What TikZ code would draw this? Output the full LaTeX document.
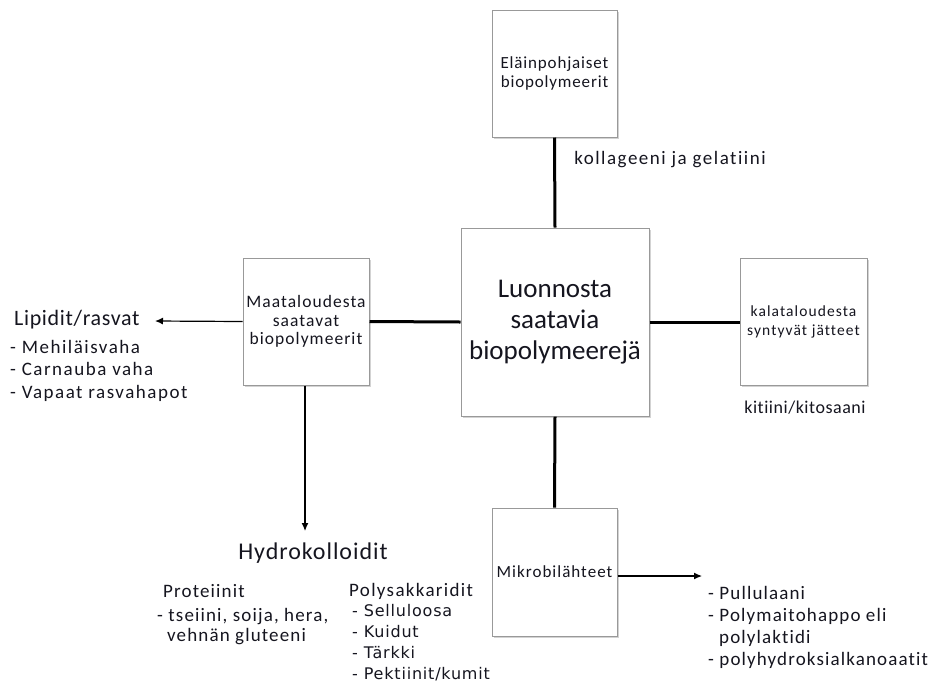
\documentclass[tikz,border=0pt]{standalone}
\usepackage{fontspec}
\setmainfont{Carlito}[Ligatures=NoCommon]
\newfontfamily\dvs{DejaVu Sans}
\newcommand\lsp[1]{\addfontfeatures{LetterSpace=#1}}
\usetikzlibrary{shadows,arrows.meta}
\definecolor{txt}{HTML}{15151F}
\begin{document}
\begin{tikzpicture}[x=1pt,y=-1pt,
  box/.style={draw=black!40, line width=1pt, fill=white, align=center, inner sep=2pt,
    drop shadow={shadow xshift=1.5pt, shadow yshift=-1.5pt, opacity=0.35}},
  link/.style={line width=3pt},
  arr/.style={line width=1.2pt, -{Latex[length=8pt,width=7pt]}},
  lbl/.style={inner sep=0, anchor=west, text=txt},
  every node/.append style={text=txt}]
\useasboundingbox (0,0) rectangle (937,689);
\node[box, minimum width=125pt, minimum height=127pt, font=\fontsize{17}{19}\selectfont\lsp{5}] (top) at (554.5,73.5) {Eläinpohjaiset\\biopolymeerit};
\node[box, minimum width=188pt, minimum height=188pt, font=\fontsize{27}{31}\selectfont] (center) at (555,322) {Luonnosta\\saatavia\\biopolymeerejä};
\node[box, minimum width=126pt, minimum height=127pt, font=\fontsize{17.5}{18.5}\selectfont\lsp{6}] (left) at (306,321.5) {Maataloudesta\\saatavat\\biopolymeerit};
\node[box, minimum width=127pt, minimum height=127pt, font=\fontsize{15.5}{19}\selectfont\lsp{7}] (right) at (803.5,322) {kalataloudesta\\syntyvät jätteet};
\node[box, minimum width=125pt, minimum height=128pt, font=\fontsize{17}{19}\selectfont\lsp{6}] (bottom) at (554.5,572) {Mikrobilähteet};

\draw[link] (top.south) -- (center.north);
\draw[link] (left.east) -- (center.west);
\draw[link] (center.east) -- (right.west);
\draw[link] (center.south) -- (bottom.north);

\coordinate (lipend) at (155,321);
\coordinate (hydend) at (305,531);
\coordinate (mikend) at (702,576);
\draw[arr] (left.west) -- (lipend);
\draw[arr] (left.south -| hydend) -- (hydend);
\draw[arr] (bottom.east |- mikend) -- (mikend);

\node[font=\fontsize{19}{22}\selectfont\lsp{8}] (koll) at (670,160) {kollageeni ja gelatiini};
\node[font=\fontsize{18}{21}\selectfont\lsp{3}] (kiti) at (805,408) {kitiini/kitosaani};

\node[lbl, font=\fontsize{22}{25}\selectfont\lsp{3}] (lip) at (14,320) {Lipidit/rasvat};
\node[lbl, font=\fontsize{19}{22.5}\selectfont\lsp{8}, align=left, anchor=north west] (liplist) at (10,340) {- Mehiläisvaha\\- Carnauba vaha\\- Vapaat rasvahapot};

\node[font=\fontsize{24}{27}\selectfont\lsp{4}] (hyd) at (313,553) {Hydrokolloidit};
\node[lbl, font=\fontsize{19}{21}\selectfont\lsp{6}] (prot) at (163,591) {Proteiinit};
\node[lbl, font=\fontsize{19}{20.5}\selectfont\lsp{6}, align=left, anchor=north west] (protlist) at (157,608) {- tseiini, soija, hera,\\\hspace*{10pt}vehnän gluteeni};
\node[lbl, font=\fontsize{19}{21}\selectfont\lsp{7}] (poly) at (349,591) {Polysakkaridit};
\node[lbl, font=\dvs\fontsize{16}{21}\selectfont\lsp{5}, align=left, anchor=north west] (polylist) at (352,604) {- Selluloosa\\- Kuidut\\- Tärkki\\- Pektiinit/kumit};

\node[lbl, font=\fontsize{19}{22}\selectfont\lsp{6}, align=left, anchor=north west] (miklist) at (708,586) {- Pullulaani\\- Polymaitohappo eli\\\hspace*{11pt}polylaktidi\\- polyhydroksialkanoaatit};
\end{tikzpicture}
\end{document}
